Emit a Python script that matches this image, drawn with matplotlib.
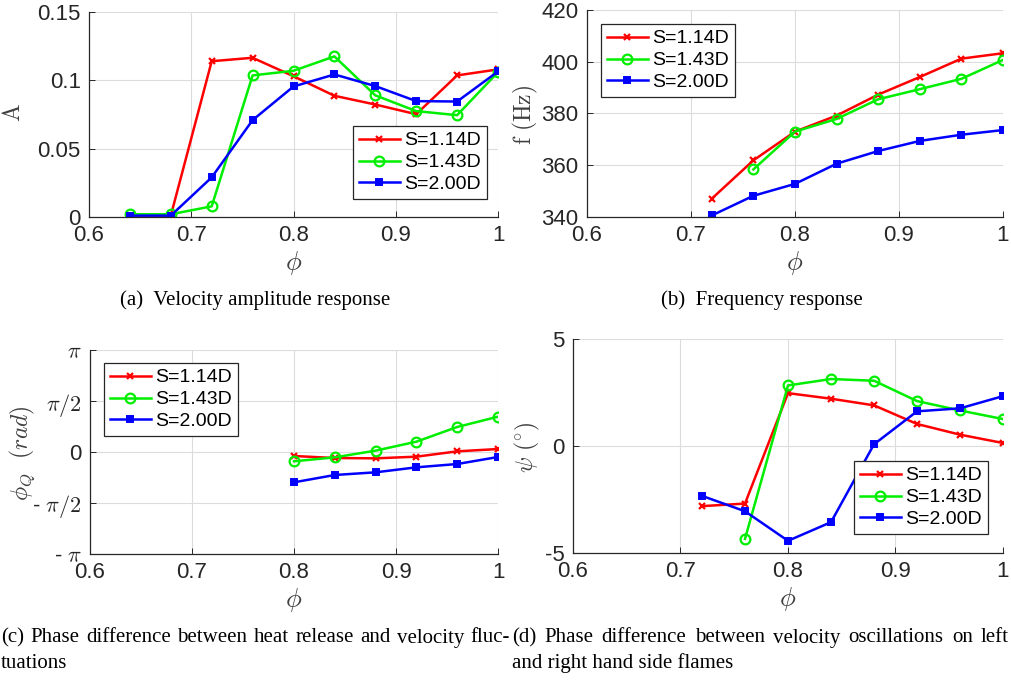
import numpy as np
import matplotlib
matplotlib.use("Agg")
import matplotlib.pyplot as plt

plt.rcParams['font.family'] = ['Liberation Sans', 'DejaVu Sans']
plt.rcParams['mathtext.fontset'] = 'cm'
plt.rcParams['axes.unicode_minus'] = False

labels = ['S=1.14D', 'S=1.43D', 'S=2.00D']
colors = ['#ff0000', '#00ee00', '#0000ff']
markers = ['x', 'o', 's']

# (a) velocity amplitude
phi_a = [0.64, 0.68, 0.72, 0.76, 0.80, 0.84, 0.88, 0.92, 0.96, 1.00]
amp_114 = [0.001, 0.001, 0.114, 0.1165, 0.103, 0.0887, 0.0823, 0.0752, 0.1036, 0.108]
amp_143 = [0.002, 0.002, 0.0078, 0.1036, 0.107, 0.1175, 0.089, 0.0775, 0.0745, 0.106]
amp_200 = [0.001, 0.001, 0.029, 0.0709, 0.0955, 0.1043, 0.0958, 0.0848, 0.0845, 0.1065]

# (b) frequency
phi_b_114 = [0.72, 0.76, 0.80, 0.84, 0.88, 0.92, 0.96, 1.00]
freq_114 = [347.1, 361.9, 373.0, 379.2, 387.3, 394.1, 401.2, 403.3]
phi_b_143 = [0.76, 0.80, 0.84, 0.88, 0.92, 0.96, 1.00]
freq_143 = [358.4, 373.0, 377.9, 385.5, 389.4, 393.4, 400.7]
phi_b_200 = [0.72, 0.76, 0.80, 0.84, 0.88, 0.92, 0.96, 1.00]
freq_200 = [340.6, 348.2, 352.8, 360.6, 365.5, 369.4, 371.8, 373.6]

# (c) phase heat release vs velocity
phi_c = [0.80, 0.84, 0.88, 0.92, 0.96, 1.00]
phq_114 = [-0.123, -0.185, -0.195, -0.144, 0.02, 0.092]
phq_143 = [-0.287, -0.164, 0.041, 0.318, 0.77, 1.088]
phq_200 = [-0.934, -0.708, -0.626, -0.472, -0.37, -0.154]

# (d) phase left vs right flames
phi_d_114 = [0.72, 0.76, 0.80, 0.84, 0.88, 0.92, 0.96, 1.00]
psi_114 = [-2.81, -2.69, 2.47, 2.21, 1.90, 1.03, 0.53, 0.14]
phi_d_143 = [0.76, 0.80, 0.84, 0.88, 0.92, 0.96, 1.00]
psi_143 = [-4.34, 2.83, 3.13, 3.05, 2.10, 1.66, 1.26]
phi_d_200 = [0.72, 0.76, 0.80, 0.84, 0.88, 0.92, 0.96, 1.00]
psi_200 = [-2.33, -3.05, -4.43, -3.56, 0.08, 1.62, 1.76, 2.33]

xticks = [0.6, 0.7, 0.8, 0.9, 1.0]
xticklabels = ['0.6', '0.7', '0.8', '0.9', '1']

fig = plt.figure(figsize=(10.12, 6.84), dpi=100)
W, H = 1012, 684


def add_ax(l, t, r, b):
    return fig.add_axes([l / W, 1 - b / H, (r - l) / W, (b - t) / H])


def style(ax, box, ylabel, ylab_xy, ylab_size=17):
    l, t, r, b = box
    ax.set_xlim(0.6, 1.0)
    ax.set_xticks(xticks)
    ax.set_xticklabels(xticklabels)
    ax.grid(True, color='#dcdcdc', lw=0.8)
    ax.set_axisbelow(True)
    for s in ['top', 'right']:
        ax.spines[s].set_visible(False)
    for s in ['left', 'bottom']:
        ax.spines[s].set_color('#262626')
        ax.spines[s].set_linewidth(0.9)
    ax.tick_params(direction='in', length=4, width=0.7, colors='#262626',
                   labelsize=16, pad=6)
    ax.set_xlabel(r'$\phi$', fontsize=19, color='#404040', labelpad=2)
    ax.set_ylabel(ylabel, fontsize=ylab_size, color='#404040', va='center')
    # place y label at pixel position
    ax.yaxis.set_label_coords((ylab_xy[0] - l) / (r - l), 1 - (ylab_xy[1] - t) / (b - t))


def plot3(ax, xs, ys):
    for x, y, c, m, lab in zip(xs, ys, colors, markers, labels):
        ms = 7 if m == 'o' else 5
        mew = 1.6 if m != 's' else 1.4
        ax.plot(x, y, color=c, lw=1.8, marker=m, ms=ms, mew=mew,
                mfc='none' if m == 'o' else c, label=lab)


def legend(ax, box, corner):
    l, t, r, b = box
    anchor = ((corner[0] - l) / (r - l), 1 - (corner[1] - t) / (b - t))
    leg = ax.legend(loc='upper left', bbox_to_anchor=anchor, fontsize=14, frameon=True,
                    fancybox=False, edgecolor='#262626', framealpha=1,
                    borderpad=0.3, labelspacing=0.22, handlelength=2.1,
                    handletextpad=0.25, borderaxespad=0)
    leg.get_frame().set_linewidth(0.9)


# (a)
box = (89, 12, 498, 217)
ax = add_ax(*box)
plot3(ax, [phi_a, phi_a, phi_a], [amp_114, amp_143, amp_200])
ax.set_ylim(0, 0.15)
ax.set_yticks([0, 0.05, 0.1, 0.15])
ax.set_yticklabels(['0', '0.05', '0.1', '0.15'])
style(ax, box, r'$\mathrm{A}$', (14, 113))
legend(ax, box, (353, 126))

# (b)
box = (587, 10, 1003, 217)
ax = add_ax(*box)
plot3(ax, [phi_b_114, phi_b_143, phi_b_200], [freq_114, freq_143, freq_200])
ax.set_ylim(340, 420)
ax.set_yticks([340, 360, 380, 400, 420])
style(ax, box, r'$\mathrm{f\ (Hz)}$', (525, 115))
legend(ax, box, (601, 24))

# (c)
box = (90, 350, 498, 554)
ax = add_ax(*box)
plot3(ax, [phi_c, phi_c, phi_c], [phq_114, phq_143, phq_200])
ax.set_ylim(-np.pi, np.pi)
ax.set_yticks([-np.pi, -np.pi / 2, 0, np.pi / 2, np.pi])
ax.set_yticklabels([r'- $\pi$', r'- $\pi/2$', '0', r'$\pi/2$', r'$\pi$'])
style(ax, box, r'$\phi_Q\ \ (rad)$', (22, 453))
legend(ax, box, (104, 363))

# (d)
box = (573, 339, 1003, 553)
ax = add_ax(*box)
plot3(ax, [phi_d_114, phi_d_143, phi_d_200], [psi_114, psi_143, psi_200])
ax.set_ylim(-5, 5)
ax.set_yticks([-5, 0, 5])
style(ax, box, r'$\psi\ (^{\circ})$', (527, 447))
legend(ax, box, (854, 461))

cap = dict(fontsize=15, family='Liberation Serif', color='black', va='center')
fig.text(255 / W, 1 - 300 / H, '(a)  Velocity amplitude response', ha='center', **cap)
fig.text(762 / W, 1 - 300 / H, '(b)  Frequency response', ha='center', **cap)

renderer = fig.canvas.get_renderer()


def justified(line, x0, x1, y):
    words = line.split(' ')
    arts = [fig.text(0, 1 - y / H, w, ha='left', **cap) for w in words]
    widths = [a.get_window_extent(renderer).width for a in arts]
    gap = (x1 - x0 - sum(widths)) / (len(words) - 1)
    x = x0
    for a, w in zip(arts, widths):
        a.set_x(x / W)
        x += w + gap


justified('(c) Phase difference between heat release and velocity fluc-', 1, 510, 638)
fig.text(1 / W, 1 - 663 / H, 'tuations', ha='left', **cap)
justified('(d) Phase difference between velocity oscillations on left', 512, 1009, 638)
fig.text(512 / W, 1 - 663 / H, 'and right hand side flames', ha='left', **cap)

fig.savefig('out.png', dpi=100)
